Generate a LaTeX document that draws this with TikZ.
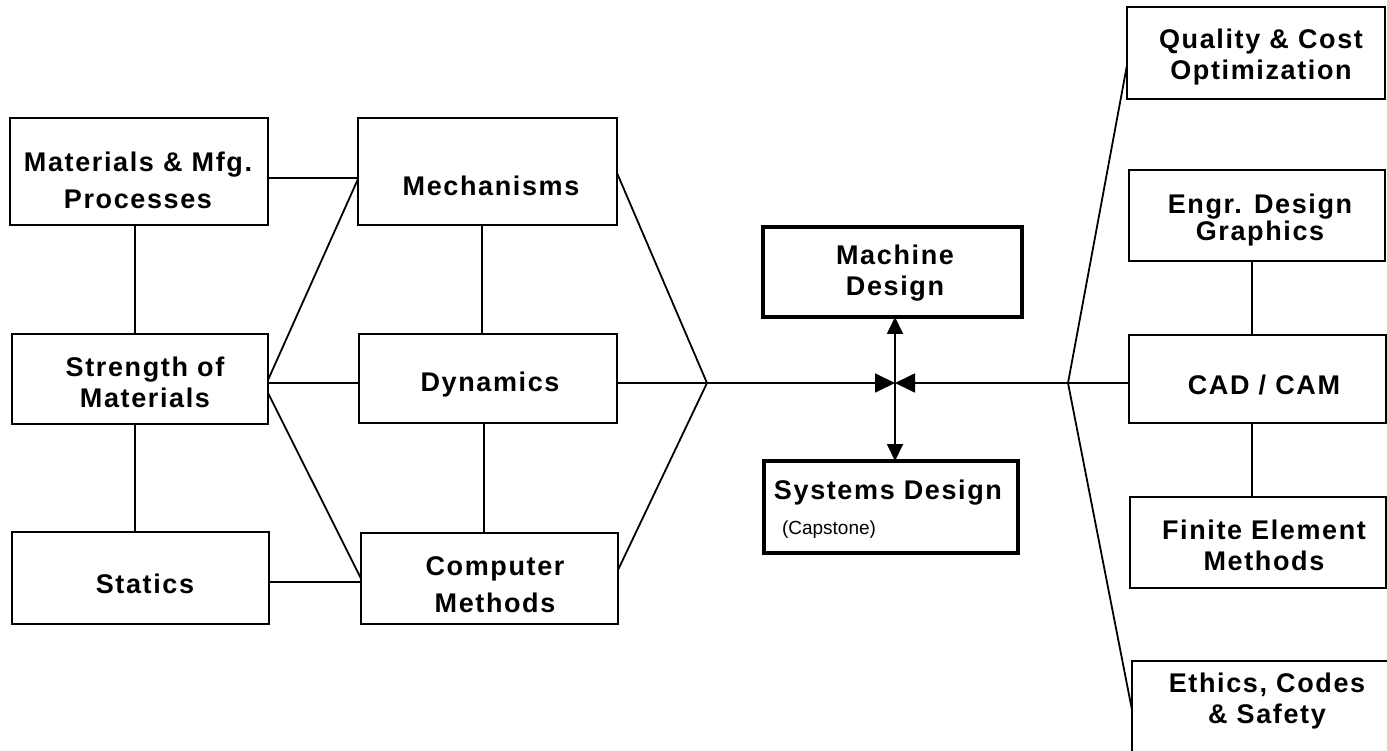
\documentclass[tikz,border=0pt]{standalone}
\usepackage{fontspec}
\setmainfont{Liberation Sans}
\newfontfamily\lblfont{Liberation Sans}[LetterSpace=6]
\usetikzlibrary{arrows.meta}
\begin{document}
\begin{tikzpicture}[x=1pt,y=-1pt,
  box/.style={draw, line width=2.6pt, inner sep=0pt, outer sep=0pt},
  hbox/.style={box, line width=3.8pt},
  txt/.style={align=center, inner sep=0pt, font=\lblfont\bfseries\fontsize{27}{31}\selectfont},
  captxt/.style={inner sep=0pt, font=\fontsize{19}{22}\selectfont},
  conn/.style={line width=1.8pt},
  arr/.style={conn, -{Triangle[length=20pt,width=19pt]}},
  varr/.style={conn, -{Triangle[length=17pt,width=16pt]}},
]
\useasboundingbox (0,0) rectangle (1387,751);
\clip (0,0) rectangle (1387,751);

% left column
\node[box, minimum width=258pt, minimum height=107pt] (mat) at (139,171.5) {};
\node[box, minimum width=256pt, minimum height=90pt] (str) at (140,379) {};
\node[box, minimum width=257pt, minimum height=92pt] (stat) at (140.5,578) {};
% middle column
\node[box, minimum width=259pt, minimum height=107pt] (mech) at (487.5,171.5) {};
\node[box, minimum width=258pt, minimum height=89pt] (dyn) at (488,378.5) {};
\node[box, minimum width=257pt, minimum height=91pt] (comp) at (489.5,578.5) {};
% centre
\node[hbox, minimum width=259pt, minimum height=90pt] (mach) at (892.5,272) {};
\node[hbox, minimum width=254pt, minimum height=92pt] (sys) at (891,507) {};
% right column
\node[box, minimum width=258pt, minimum height=92pt] (qual) at (1256,53) {};
\node[box, minimum width=256pt, minimum height=91pt] (engr) at (1257,215.5) {};
\node[box, minimum width=257pt, minimum height=88pt] (cad) at (1257.5,379) {};
\node[box, minimum width=256pt, minimum height=91pt] (fem) at (1258,542.5) {};
\node[box, minimum width=268pt, minimum height=109pt] (eth) at (1266,715.5) {};

% texts
\node[txt] (matT) at (138,180.5) {Materials \& Mfg.\\[6pt]Processes};
\node[txt] (mechT) at (491,186) {Mechanisms};
\node[txt] (strT) at (145,382) {Strength of\\Materials};
\node[txt] (statT) at (145,584) {Statics};
\node[txt] (dynT) at (490,385) {Dynamics};
\node[txt] (compT) at (495,584.5) {Computer\\[6pt]Methods};
\node[txt] (machT) at (895,273) {Machine\\Design};
\node[txt] (sysT) at (888,493) {Systems Design};
\node[captxt] (capT) at (829,530) {(Capstone)};
\node[txt] (qualT) at (1261,57.5) {Quality \& Cost\\Optimization};
\node[txt] (engrT) at (1260,220) {Engr. Design\\[-4pt]Graphics};
\node[txt] (cadT) at (1264,385) {CAD / CAM};
\node[txt] (femT) at (1264,545) {Finite Element\\Methods};
\node[txt] (ethT) at (1267,701) {Ethics, Codes\\\& Safety};

% junction points
\coordinate (L) at (707,383);
\coordinate (C) at (895,383);
\coordinate (R) at (1068,383);

% left connectors
\draw[conn] ([yshift=-6.5pt]mat.east) -- ([yshift=-6.5pt]mech.west);
\draw[conn] ([yshift=-1pt]str.east) -- ([yshift=-7.5pt]mech.west);
\draw[conn] ([yshift=-4pt]str.east) -- ([yshift=-4.5pt]dyn.west);
\draw[conn] ([yshift=-14pt]str.east) -- (comp.west);
\draw[conn] ([yshift=-4pt]stat.east) -- ([yshift=-3.5pt]comp.west);
\draw[conn] ([xshift=-4pt]mat.south) -- ([xshift=-5pt]str.north);
\draw[conn] ([xshift=-5pt]str.south) -- ([xshift=-5.5pt]stat.north);
\draw[conn] ([xshift=-5.5pt]mech.south) -- ([xshift=-6pt]dyn.north);
\draw[conn] ([xshift=-4pt]dyn.south) -- ([xshift=-5.5pt]comp.north);
\draw[conn] ([yshift=-1.5pt]mech.east) -- (L);
\draw[conn] ([yshift=8.5pt]comp.east) -- (L);
\draw[arr] ([yshift=-4.5pt]dyn.east) -- (L) -- (C);

% centre arrows
\draw[varr] (C) -- (C |- mach.south);
\draw[varr] (C) -- (C |- sys.north);

% right connectors
\draw[arr] ([yshift=-4pt]cad.west) -- (R) -- (C);
\draw[conn] (R) -- ([yshift=-12pt]qual.west);
\draw[conn] (R) -- ([yshift=5.5pt]eth.west);
\draw[conn] ([xshift=-5pt]engr.south) -- ([xshift=-5.5pt]cad.north);
\draw[conn] ([xshift=-5.5pt]cad.south) -- ([xshift=-6pt]fem.north);
\end{tikzpicture}
\end{document}
